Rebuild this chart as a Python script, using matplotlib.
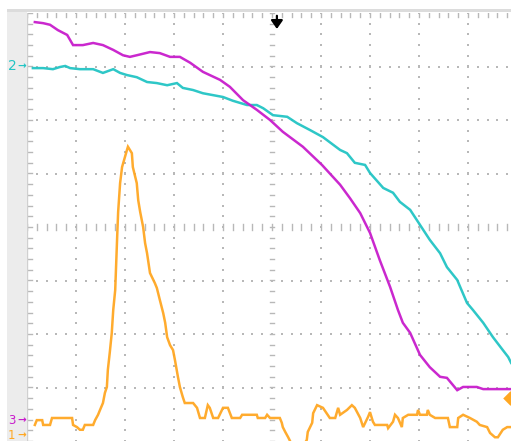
import numpy as np
import matplotlib
matplotlib.use("Agg")
import matplotlib.pyplot as plt
from matplotlib.patches import Rectangle

# Screen divisions: time 0..10 div (right edge cut at ~9.88), volts -4..4 div
ch3_t = [0.16, 0.33, 0.47, 0.63, 0.82, 0.94, 1.14, 1.35, 1.55, 1.76, 1.96, 2.10, 2.24, 2.51,
         2.71, 2.92, 3.12, 3.33, 3.59, 3.94, 4.14, 4.41, 4.69, 4.96, 5.22, 5.63, 6.02, 6.39,
         6.59, 6.80, 7.00, 7.20, 7.41, 7.57, 7.67, 7.82, 8.02, 8.22, 8.43, 8.57, 8.78, 8.90,
         9.18, 9.31, 9.88]
ch3_v = [3.83, 3.81, 3.78, 3.68, 3.59, 3.40, 3.40, 3.44, 3.40, 3.31, 3.21, 3.18, 3.21, 3.27,
         3.25, 3.18, 3.18, 3.07, 2.90, 2.75, 2.62, 2.37, 2.19, 2.00, 1.78, 1.50, 1.16, 0.79,
         0.54, 0.26, -0.11, -0.62, -1.12, -1.55, -1.79, -1.98, -2.39, -2.62, -2.80, -2.82,
         -3.05, -2.99, -2.99, -3.03, -3.03]

ch2_t = [0.12, 0.33, 0.53, 0.67, 0.78, 0.88, 1.08, 1.35, 1.55, 1.76, 1.90, 2.04, 2.24, 2.45,
         2.65, 2.86, 3.06, 3.18, 3.39, 3.59, 4.00, 4.20, 4.49, 4.69, 4.82, 5.02, 5.31, 5.51,
         5.78, 6.04, 6.39, 6.53, 6.69, 6.90, 7.00, 7.27, 7.47, 7.61, 7.82, 8.02, 8.22, 8.43,
         8.57, 8.78, 8.84, 8.98, 9.10, 9.31, 9.51, 9.71, 9.82, 9.88]
ch2_v = [2.97, 2.97, 2.95, 2.99, 3.01, 2.97, 2.95, 2.95, 2.88, 2.95, 2.88, 2.84, 2.80, 2.71,
         2.69, 2.65, 2.69, 2.60, 2.56, 2.50, 2.43, 2.36, 2.28, 2.28, 2.22, 2.09, 2.06, 1.94,
         1.81, 1.68, 1.44, 1.38, 1.20, 1.16, 1.01, 0.73, 0.64, 0.47, 0.32, 0.04, -0.24, -0.49,
         -0.75, -0.99, -1.12, -1.42, -1.55, -1.79, -2.06, -2.30, -2.43, -2.54]

ch1_t = [0.16, 0.20, 0.31, 0.33, 0.47, 0.51, 0.92, 0.94, 1.02, 1.08, 1.14, 1.18, 1.35, 1.39,
         1.45, 1.49, 1.55, 1.59, 1.63, 1.65, 1.69, 1.73, 1.76, 1.80, 1.84, 1.86, 1.90, 1.94,
         2.04, 2.06, 2.14, 2.16, 2.24, 2.27, 2.31, 2.37, 2.41, 2.45, 2.51, 2.61, 2.65, 2.71,
         2.78, 2.82, 2.86, 2.92, 2.98, 3.02, 3.08, 3.12, 3.18, 3.22, 3.39, 3.47, 3.53, 3.63,
         3.69, 3.73, 3.80, 3.90, 4.00, 4.10, 4.18, 4.35, 4.39, 4.69, 4.71, 4.86, 4.90, 4.96,
         5.16, 5.20, 5.22, 5.27, 5.33, 5.39, 5.53, 5.67, 5.71, 5.73, 5.82, 5.84, 5.92, 6.04,
         6.18, 6.29, 6.35, 6.39, 6.53, 6.63, 6.69, 6.80, 6.86, 6.96, 7.00, 7.06, 7.10, 7.35,
         7.37, 7.47, 7.51, 7.57, 7.65, 7.67, 7.78, 7.96, 7.98, 8.02, 8.16, 8.18, 8.22, 8.33,
         8.59, 8.63, 8.78, 8.80, 8.90, 9.04, 9.18, 9.24, 9.39, 9.45, 9.55, 9.61, 9.71, 9.80,
         9.88]
ch1_v = [-3.70, -3.61, -3.61, -3.70, -3.70, -3.57, -3.57, -3.70, -3.74, -3.79, -3.79, -3.70,
         -3.70, -3.61, -3.51, -3.42, -3.29, -3.10, -2.99, -2.67, -2.34, -1.98, -1.55, -1.18,
         -0.19, 0.28, 0.82, 1.12, 1.44, 1.50, 1.38, 1.12, 0.82, 0.50, 0.28, 0.00, -0.30,
         -0.49, -0.86, -1.05, -1.14, -1.36, -1.61, -1.79, -2.06, -2.21, -2.30, -2.49, -2.80,
         -2.99, -3.18, -3.29, -3.29, -3.38, -3.57, -3.57, -3.33, -3.38, -3.57, -3.57, -3.38,
         -3.38, -3.57, -3.57, -3.51, -3.51, -3.57, -3.57, -3.51, -3.57, -3.57, -3.66, -3.74,
         -3.83, -3.93, -4.04, -4.17, -4.04, -3.98, -3.83, -3.66, -3.48, -3.33, -3.38, -3.57,
         -3.57, -3.38, -3.51, -3.42, -3.33, -3.38, -3.57, -3.74, -3.55, -3.46, -3.64, -3.70,
         -3.70, -3.76, -3.64, -3.51, -3.57, -3.74, -3.57, -3.51, -3.51, -3.42, -3.51, -3.51,
         -3.42, -3.51, -3.57, -3.57, -3.74, -3.74, -3.57, -3.51, -3.57, -3.64, -3.70, -3.74,
         -3.85, -3.93, -3.93, -3.79, -3.74, -3.74]

ch_labels = ["1", "2", "3"]
ch_offsets = [-3.90, 3.0, -3.62]    # channel ground markers (div)
trig_level = -3.2                   # trigger level marker (div)
trig_pos = 5.1                      # trigger position marker (div)

C1, C2, C3 = "#ffa722", "#22c4c4", "#c81ccc"
GRID = "#b8b8b8"

W, H, DPI = 511, 441, 100
fig = plt.figure(figsize=(W / DPI, H / DPI), dpi=DPI)
fig.patch.set_facecolor("white")

# side panel and top strip of the scope screen
fig.add_artist(Rectangle((7 / W, 0), 20 / W, 1 - 10 / H, transform=fig.transFigure,
                         facecolor="#ececec", edgecolor="none", zorder=0))
fig.add_artist(Rectangle((7 / W, 1 - 12 / H), 1, 3 / H, transform=fig.transFigure,
                         facecolor="#dcdcdc", edgecolor="none", zorder=0))

x0, x1 = 0.0, (W - 27) / 49.0
ax = fig.add_axes([27 / W, 0, (W - 27) / W, 428 / H])
ax.set_xlim(x0, x1)
ax.set_ylim(-4, 4)
ax.axis("off")

# graticule dots on division lines
minor_x = np.arange(0, 10.01, 0.2)
minor_y = np.arange(-4, 4.01, 0.2)
for gx in range(1, 10):
    if gx == 5:
        continue
    ax.scatter(np.full_like(minor_y, gx), minor_y, s=1.6, c=GRID, marker="s", lw=0, zorder=1)
for gy in range(-3, 4):
    if gy == 0:
        continue
    ax.scatter(minor_x, np.full_like(minor_x, gy), s=1.6, c=GRID, marker="s", lw=0, zorder=1)

# centre axes with tick marks
for mx in minor_x:
    ax.plot([mx, mx], [-0.05, 0.05], color=GRID, lw=1.0, zorder=1)
    ax.plot([mx, mx], [3.92, 4.0], color=GRID, lw=1.0, zorder=1)
for my in minor_y:
    ax.plot([4.96, 5.04], [my, my], color=GRID, lw=1.0, zorder=1)
    ax.plot([0.0, 0.1], [my, my], color=GRID, lw=1.0, zorder=1)
ax.plot([0, 0], [-4, 4], color="#d0d0d0", lw=1.0, zorder=1)

# traces
ax.plot(ch2_t, ch2_v, color=C2, lw=1.8, alpha=0.95, zorder=3, solid_joinstyle="miter")
ax.plot(ch3_t, ch3_v, color=C3, lw=1.8, alpha=0.95, zorder=4, solid_joinstyle="miter")
ax.plot(ch1_t, ch1_v, color=C1, lw=1.8, alpha=0.95, zorder=5, solid_joinstyle="miter")

# trigger markers
ax.annotate("", xy=(trig_pos, 3.65), xytext=(trig_pos, 4.0),
            arrowprops=dict(arrowstyle="-|>,head_width=0.35,head_length=0.5",
                            color="black", lw=1.6), zorder=6, annotation_clip=False)
ax.scatter([x1 - 0.02], [trig_level], marker="D", s=55, c=C1, lw=0, zorder=6, clip_on=False)

# channel markers in the side panel
for lab, off, col in zip(ch_labels, ch_offsets, [C1, C2, C3]):
    fs = 10 if lab == "2" else 8.5
    fig.text(8 / W, (off + 4) / 8 * 428 / H, lab, color=col, fontsize=fs,
             family="DejaVu Sans", va="center", ha="left")
    fig.text(17 / W, (off + 4) / 8 * 428 / H, "\u2192", color=col, fontsize=7.5,
             family="DejaVu Sans", va="center", ha="left", fontweight="bold")

fig.savefig("out.png", dpi=DPI)
